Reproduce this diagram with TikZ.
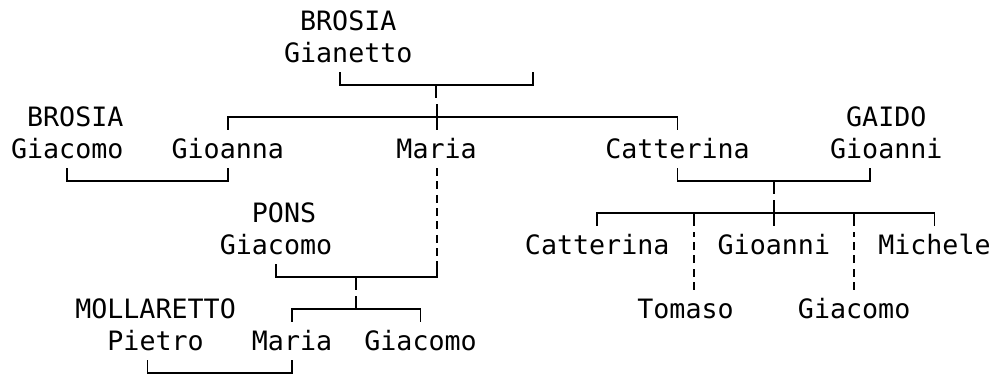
\documentclass[tikz,border=0pt]{standalone}
\usepackage{fontspec}
\setmonofont{DejaVu Sans Mono}
\begin{document}
\begin{tikzpicture}[x=12.045pt, y=-24pt,
    person/.style={font=\ttfamily\fontsize{20}{24}\selectfont, inner sep=0pt,
      text height=21.1pt, text depth=7.2pt, anchor=west},
    rule/.style={line width=1.4pt},
    unsure/.style={rule, dash pattern=on 6pt off 4pt}]
    \useasboundingbox (-1.171,0.344) rectangle (60.598,12.031);

    \node[person] (brosiaA)    at (17.5,1)  {BROSIA};
    \node[person] (gianetto)   at (16.5,2)  {Gianetto};
    \node[person] (brosiaB)    at (0.5,4)   {BROSIA};
    \node[person] (gaido)      at (51.5,4)  {GAIDO};
    \node[person] (giacomoB)   at (-0.5,5)  {Giacomo};
    \node[person] (gioanna)    at (9.5,5)   {Gioanna};
    \node[person] (maria)      at (23.5,5)  {Maria};
    \node[person] (catterina)  at (36.5,5)  {Catterina};
    \node[person] (gioanni)    at (50.5,5)  {Gioanni};
    \node[person] (pons)       at (14.5,7)  {PONS};
    \node[person] (giacomoP)   at (12.5,8)  {Giacomo};
    \node[person] (catterina2) at (31.5,8)  {Catterina};
    \node[person] (gioanni2)   at (43.5,8)  {Gioanni};
    \node[person] (michele)    at (53.5,8)  {Michele};
    \node[person] (mollaretto) at (3.5,10)  {MOLLARETTO};
    \node[person] (tomaso)     at (38.5,10) {Tomaso};
    \node[person] (giacomo2)   at (48.5,10) {Giacomo};
    \node[person] (pietro)     at (5.5,11)  {Pietro};
    \node[person] (maria2)     at (14.5,11) {Maria};
    \node[person] (giacomo3)   at (21.5,11) {Giacomo};

    \coordinate (u1) at (26,3);
    \coordinate (nobody) at (32,2.59);
    \coordinate (u2) at (47,6);
    \coordinate (u3) at (21,9);
    \coordinate (k3) at (21,10);

    \draw[rule] ([xshift=-6.02pt]gianetto.south) |- (u1) -| (nobody);
    \draw[rule] (u1) -- ++(0,.41);
    \draw[rule] (gioanna.north) -- ++(0,-.41) -| (catterina.north);
    \draw[rule] (maria.north) -- ++(0,-.82);

    \draw[rule] (giacomoB.south) -- ++(0,.41) -| (gioanna.south);
    \draw[rule] (catterina.south) -- ++(0,.41) -| ([xshift=-12.045pt]gioanni.south);
    \draw[rule] (u2) -- ++(0,.41);
    \draw[rule] (catterina2.north) -- ++(0,-.41) -| (michele.north);
    \draw[rule] (gioanni2.north) -- ++(0,-.82);
    \draw[unsure] ([xshift=6.02pt]tomaso.north) -- ++(0,-1.82) coordinate (t1);
    \draw[rule] (t1) ++(0,-.18) -- ++(0,-.41);
    \draw[unsure] (giacomo2.north) -- ++(0,-1.82) coordinate (t2);
    \draw[rule] (t2) ++(0,-.18) -- ++(0,-.41);

    \draw[unsure] (maria.south) -- ++(0,3) coordinate (m1);
    \draw[rule] (m1) -- ++(0,.41) -| (giacomoP.south);
    \draw[rule] (u3) -- ++(0,.41);
    \draw[rule] (maria2.north) -- ++(0,-.41) -| (giacomo3.north);
    \draw[rule] (k3) -- ++(0,-.41);
    \draw[rule] ([xshift=-6.02pt]pietro.south) -- ++(0,.41) -| (maria2.south);
\end{tikzpicture}
\end{document}
